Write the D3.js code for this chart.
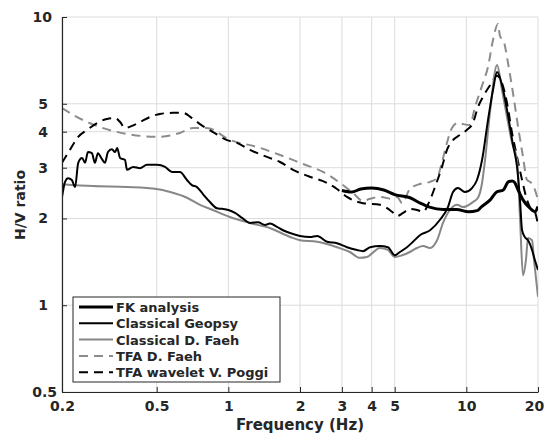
<!DOCTYPE html>
<html>
<head>
<meta charset="utf-8">
<script src="https://cdn.jsdelivr.net/npm/d3@7"></script>
<style>
  body { margin: 0; background: #fff; }
  text { font-family: "DejaVu Sans", sans-serif; font-weight: bold; fill: #262626; }
</style>
</head>
<body>
<div id="chart"></div>
<script>
// tick values
const xTicks = [0.2, 0.5, 1, 2, 3, 4, 5, 10, 20];
const yTicks = [0.5, 1, 2, 3, 4, 5, 10];

// [frequency Hz, H/V ratio]
const fkAnalysis = [[3.0,2.50],[3.3,2.47],[3.6,2.53],[4.0,2.55],[4.5,2.51],[5.0,2.42],[5.8,2.36],[6.4,2.26],[7.0,2.19],[8.0,2.15],[9.1,2.15],[10.2,2.11],[11.1,2.13],[11.6,2.20],[12.6,2.32],[13.4,2.47],[14.3,2.51],[15.0,2.68],[15.6,2.70],[16.0,2.66],[16.5,2.51],[17.3,2.32],[18.5,2.17],[19.4,2.11],[20,2.20]];

const classicalGeopsy = [[0.200,2.37],[0.206,2.68],[0.212,2.76],[0.220,2.72],[0.227,2.57],[0.234,3.12],[0.243,3.24],[0.250,3.12],[0.257,3.40],[0.267,3.37],[0.275,3.12],[0.283,3.37],[0.294,3.22],[0.303,3.12],[0.312,3.40],[0.324,3.48],[0.334,3.40],[0.341,3.51],[0.351,3.24],[0.368,3.19],[0.375,2.95],[0.398,3.02],[0.425,2.99],[0.455,3.07],[0.501,3.07],[0.542,3.02],[0.580,2.90],[0.626,2.90],[0.670,2.72],[0.703,2.61],[0.738,2.57],[0.782,2.43],[0.837,2.28],[0.896,2.17],[0.940,2.16],[1.0,2.14],[1.067,2.09],[1.141,2.01],[1.233,1.93],[1.332,1.94],[1.426,1.90],[1.496,1.92],[1.601,1.87],[1.697,1.82],[1.816,1.78],[2.0,1.74],[2.20,1.725],[2.36,1.74],[2.60,1.66],[2.86,1.64],[3.15,1.59],[3.47,1.555],[3.68,1.54],[3.94,1.59],[4.34,1.605],[4.68,1.59],[5.01,1.49],[5.26,1.53],[5.63,1.59],[5.97,1.66],[6.38,1.75],[7.04,1.82],[7.75,1.98],[8.37,2.19],[8.79,2.47],[9.22,2.55],[9.86,2.47],[10.56,2.55],[11.08,2.72],[11.64,3.19],[12.33,4.39],[12.94,5.58],[13.46,6.45],[14.12,5.81],[14.82,4.76],[15.70,3.60],[16.33,3.02],[16.80,2.32],[17.14,1.82],[17.64,1.72],[18.16,1.68],[18.88,1.555],[19.4,1.436],[20,1.325]];

const classicalFaeh = [[0.2,2.63],[0.27,2.59],[0.375,2.57],[0.50,2.53],[0.57,2.47],[0.67,2.36],[0.76,2.23],[0.86,2.14],[1.02,2.02],[1.23,1.93],[1.50,1.85],[1.82,1.725],[2.0,1.68],[2.36,1.66],[2.86,1.59],[3.24,1.53],[3.57,1.46],[3.82,1.47],[4.34,1.58],[4.68,1.555],[5.01,1.47],[5.37,1.49],[5.79,1.53],[6.20,1.58],[6.58,1.605],[7.04,1.58],[7.53,1.68],[7.98,1.93],[8.53,2.14],[9.14,2.23],[9.68,2.19],[10.66,2.28],[11.19,2.36],[11.64,2.655],[11.98,3.19],[12.6,4.76],[13.46,6.82],[14.12,5.58],[14.82,4.50],[15.56,3.66],[16.33,3.19],[16.80,2.02],[17.3,1.27],[17.8,1.436],[18.16,1.71],[18.88,1.68],[19.24,1.436],[20,1.07]];

const tfaFaeh = [[0.2,4.83],[0.245,4.39],[0.289,4.15],[0.375,3.93],[0.50,3.84],[0.626,3.96],[0.71,4.12],[0.81,4.12],[1.02,3.74],[1.32,3.54],[1.65,3.32],[2.06,3.09],[2.50,2.90],[2.95,2.655],[3.34,2.45],[3.68,2.30],[3.94,2.34],[4.34,2.375],[4.87,2.34],[5.12,2.375],[5.37,2.26],[5.79,2.53],[6.38,2.635],[7.04,2.68],[7.53,2.76],[7.90,3.14],[8.29,3.66],[8.70,4.12],[9.22,4.29],[9.68,4.25],[10.36,4.22],[10.87,4.87],[11.19,5.24],[11.74,5.90],[12.33,6.71],[12.94,8.32],[13.58,9.46],[13.84,8.60],[14.39,8.19],[14.96,6.93],[15.70,5.45],[16.5,4.15],[17.3,3.27],[17.98,2.72],[18.5,2.68],[19.06,2.61],[20,2.32]];

const tfaPoggi = [[0.2,3.12],[0.216,3.46],[0.234,3.84],[0.255,4.06],[0.281,4.29],[0.309,4.43],[0.334,4.46],[0.351,4.32],[0.368,4.12],[0.394,4.19],[0.425,4.32],[0.469,4.50],[0.516,4.61],[0.585,4.65],[0.645,4.65],[0.703,4.46],[0.76,4.25],[0.862,3.99],[0.987,3.74],[1.087,3.66],[1.233,3.46],[1.453,3.27],[1.648,3.14],[1.869,2.95],[2.20,2.79],[2.60,2.655],[2.86,2.53],[3.15,2.375],[3.68,2.26],[4.34,2.23],[4.87,2.11],[5.12,2.04],[5.42,2.09],[5.79,2.16],[6.20,2.14],[6.58,2.11],[7.04,2.32],[7.38,2.57],[7.90,3.02],[8.29,3.46],[8.79,3.74],[9.40,3.90],[10.06,4.06],[10.66,4.29],[11.19,4.87],[11.74,5.28],[12.6,5.81],[13.46,6.25],[14.12,5.90],[14.82,5.03],[15.56,3.96],[16.33,3.27],[17.14,2.72],[17.98,2.32],[18.5,2.19],[19.4,2.11],[20,1.90]];

const seriesNames = ["FK analysis", "Classical Geopsy", "Classical D. Faeh", "TFA D. Faeh", "TFA wavelet V. Poggi"];

const margin = { top: 17, right: 6, bottom: 44, left: 62 };
const width = 544 - margin.left - margin.right;
const height = 436 - margin.top - margin.bottom;

const svg = d3.select("#chart").append("svg")
  .attr("width", 544).attr("height", 436);
const g = svg.append("g").attr("transform", `translate(${margin.left},${margin.top})`);

const x = d3.scaleLog().domain([0.2, 20]).range([0, width]);
const y = d3.scaleLog().domain([0.5, 10]).range([height, 0]);

// grid
g.append("g").selectAll("line").data(xTicks).enter().append("line")
  .attr("x1", d => x(d)).attr("x2", d => x(d)).attr("y1", 0).attr("y2", height)
  .attr("stroke", "#dcdcdc").attr("stroke-width", 1);
g.append("g").selectAll("line").data(yTicks).enter().append("line")
  .attr("x1", 0).attr("x2", width).attr("y1", d => y(d)).attr("y2", d => y(d))
  .attr("stroke", "#dcdcdc").attr("stroke-width", 1);

g.append("defs").append("clipPath").attr("id", "clip")
  .append("rect").attr("width", width).attr("height", height);

const line = d3.line().x(d => x(d[0])).y(d => y(d[1])).curve(d3.curveMonotoneX);

const styles = [
  { data: fkAnalysis, color: "#000", w: 3, dash: null },
  { data: classicalGeopsy, color: "#000", w: 2, dash: null },
  { data: classicalFaeh, color: "#878787", w: 2, dash: null },
  { data: tfaFaeh, color: "#8c8c8c", w: 2, dash: "9,6" },
  { data: tfaPoggi, color: "#000", w: 2, dash: "9,6" },
];

const plot = g.append("g").attr("clip-path", "url(#clip)");
// dashed first, then solid
[3, 4, 2, 1, 0].forEach(i => {
  const s = styles[i];
  plot.append("path").datum(s.data)
    .attr("d", line)
    .attr("fill", "none")
    .attr("stroke", s.color)
    .attr("stroke-width", s.w)
    .attr("stroke-dasharray", s.dash)
    .attr("stroke-linejoin", "round");
});

// axes
const xAxis = g.append("g").attr("transform", `translate(0,${height})`)
  .call(d3.axisBottom(x).tickValues(xTicks).tickFormat(d3.format("~g")).tickSizeInner(-5).tickSizeOuter(0).tickPadding(9));
const yAxis = g.append("g")
  .call(d3.axisLeft(y).tickValues(yTicks).tickFormat(d3.format("~g")).tickSizeInner(-5).tickSizeOuter(0).tickPadding(14));
[xAxis, yAxis].forEach(a => {
  a.select(".domain").attr("stroke", "#262626").attr("stroke-width", 1.2);
  a.selectAll(".tick line").attr("stroke", "#262626");
  a.selectAll("text").attr("font-size", 14).attr("fill", "#262626")
    .style("font-family", "DejaVu Sans").style("font-weight", "bold");
});
yAxis.selectAll(".tick text").filter(d => d === 0.5).attr("dx", 9);
yAxis.selectAll(".tick text").filter(d => d === 10).attr("dx", 4);
xAxis.selectAll(".tick text").filter(d => d === 20).attr("dx", -4);

svg.append("text").attr("x", 300).attr("y", 430)
  .attr("text-anchor", "middle").attr("font-size", 15).text("Frequency (Hz)");
svg.append("text").attr("transform", "translate(25,205) rotate(-90)")
  .attr("text-anchor", "middle").attr("font-size", 14).text("H/V ratio");

// legend
const leg = svg.append("g").attr("transform", "translate(73,297)");
leg.append("rect").attr("width", 207).attr("height", 85)
  .attr("fill", "#fff").attr("stroke", "#262626").attr("stroke-width", 1);
seriesNames.forEach((name, i) => {
  const s = styles[i];
  const yy = 10 + i * 16.3;
  leg.append("line").attr("x1", 6).attr("x2", 40).attr("y1", yy).attr("y2", yy)
    .attr("stroke", s.color).attr("stroke-width", s.w).attr("stroke-dasharray", s.dash);
  leg.append("text").attr("x", 43).attr("y", yy + 5).attr("font-size", 13).text(name);
});
</script>
</body>
</html>
